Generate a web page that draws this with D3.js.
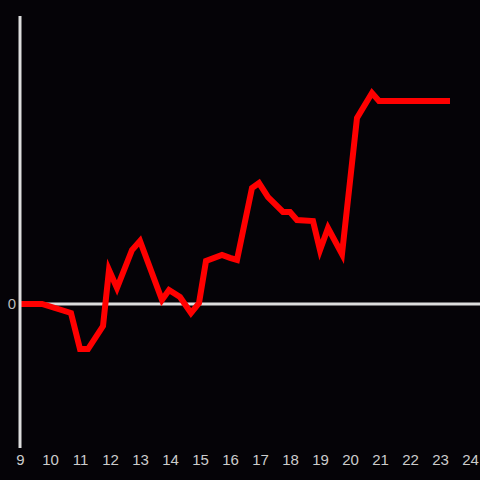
<!DOCTYPE html>
<html><head><meta charset="utf-8">
<script src="https://cdn.jsdelivr.net/npm/d3@7"></script>
<style>html,body{margin:0;padding:0;background:#050307;}</style>
</head><body>
<svg id="c" width="480" height="480"></svg>
<script>
const hours = [9.0, 9.733, 10.7, 11.0, 11.267, 11.767, 11.967, 12.233, 12.733, 13.0, 13.733, 13.967, 14.333, 14.7, 14.967, 15.2, 15.733, 16.0, 16.233, 16.733, 16.967, 17.267, 17.767, 18.0, 18.233, 18.767, 19.0, 19.267, 19.733, 20.233, 20.733, 20.967, 23.333];
const values = [0, 0, -0.0625, -0.313, -0.313, -0.153, 0.236, 0.111, 0.375, 0.438, 0.028, 0.097, 0.049, -0.063, 0.007, 0.299, 0.340, 0.320, 0.306, 0.806, 0.84, 0.743, 0.639, 0.639, 0.583, 0.576, 0.375, 0.528, 0.347, 1.292, 1.465, 1.41, 1.41];
const xTicks = [9,10,11,12,13,14,15,16,17,18,19,20,21,22,23,24];
const yTicks = [0];

const svg = d3.select("#c");
svg.append("rect").attr("width",480).attr("height",480).attr("fill","#050307");
const x = d3.scaleLinear().domain([9,24]).range([20,470]);
const y = d3.scaleLinear().domain([-1,2]).range([448,16]);

// zero line
svg.append("line").attr("x1",x(9)).attr("x2",480).attr("y1",y(0)).attr("y2",y(0))
  .attr("stroke","#dddddd").attr("stroke-width",3);

const line = d3.line().x((d,i)=>x(hours[i])).y(d=>y(d));
svg.append("path").datum(values).attr("d",line).attr("fill","none")
  .attr("stroke","#ff0000").attr("stroke-width",6).attr("stroke-linejoin","miter");

// y axis line
svg.append("line").attr("x1",x(9)).attr("x2",x(9)).attr("y1",y(2)).attr("y2",y(-1))
  .attr("stroke","#dddddd").attr("stroke-width",3);

const xa = svg.append("g").attr("transform",`translate(0,${y(-1)})`)
  .call(d3.axisBottom(x).tickValues(xTicks).tickFormat(d3.format("d")).tickSize(0).tickPadding(6));
xa.select(".domain").remove();
xa.selectAll("text").attr("fill","#cccccc").style("font-family","'Liberation Sans', Arial, sans-serif").style("font-size","15px");

const ya = svg.append("g").attr("transform",`translate(${x(9)},0)`)
  .call(d3.axisLeft(y).tickValues(yTicks).tickFormat(d3.format("d")).tickSize(0).tickPadding(4));
ya.select(".domain").remove();
ya.selectAll("text").attr("fill","#bbbbbb").style("font-family","'Liberation Sans', Arial, sans-serif").style("font-size","15px");
</script>
</body></html>
